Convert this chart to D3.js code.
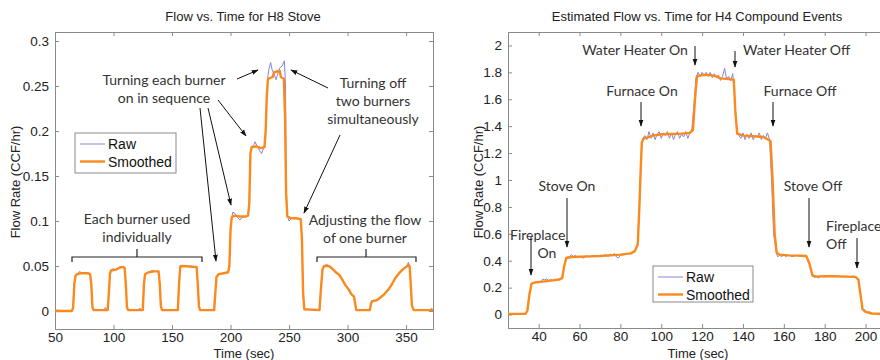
<!DOCTYPE html>
<html><head><meta charset="utf-8">
<script src="https://cdn.jsdelivr.net/npm/d3@7"></script>
<style>
body{margin:0;background:#fff;}
svg{display:block;}
.tick text{font-family:"Liberation Sans",Arial,sans-serif;font-size:13.5px;fill:#222;}
</style></head>
<body>
<svg id="c" width="880" height="360"></svg>
<script>
// ---------- DATA ----------
const h8Title = "Flow vs. Time for H8 Stove";
const h4Title = "Estimated Flow vs. Time for H4 Compound Events";
const xLabel = "Time (sec)";
const yLabel = "Flow Rate (CCF/hr)";
const seriesNames = ["Raw", "Smoothed"];

const h8XTicks = [50,100,150,200,250,300,350];
const h8YTicks = [0,0.05,0.1,0.15,0.2,0.25,0.3];
const h8YTickLabels = ["0","0.05","0.1","0.15","0.2","0.25","0.3"];
const h4XTicks = [40,60,80,100,120,140,160,180,200];
const h4YTicks = [0,0.2,0.4,0.6,0.8,1,1.2,1.4,1.6,1.8,2];
const h4YTickLabels = ["0","0.2","0.4","0.6","0.8","1","1.2","1.4","1.6","1.8","2"];

// H8 stove: [time, flow]
const h8Smooth = [[50,0],[64.5,0],[65.5,0.004],[66.5,0.03],[67.5,0.039],[69,0.041],[72,0.042],[78,0.042],[80,0.041],[81,0.03],[82,0.004],[83,0.001],
[95,0.001],[96,0.02],[97,0.042],[98,0.045],[102,0.046],[105,0.048],[108,0.049],[109.5,0.048],[110.5,0.03],[111.5,0.004],[112.5,0.001],
[125,0.001],[126,0.03],[127,0.041],[130,0.043],[135,0.044],[138.5,0.044],[139.5,0.03],[140.5,0.005],[141.5,0.001],
[155,0.001],[156,0.03],[157,0.049],[160,0.05],[167,0.049],[171,0.049],[172,0.03],[173,0.005],[174,0.001],
[186,0.001],[187,0.02],[188,0.038],[190,0.041],[194,0.042],[198,0.043],[199,0.05],[200,0.09],[201,0.104],[203,0.106],[208,0.105],[213,0.105],[215,0.106],
[216,0.12],[217,0.175],[218,0.182],[222,0.183],[226,0.181],[229,0.182],[230,0.2],[231,0.24],[232,0.258],[236,0.26],[237,0.265],[242,0.267],[243,0.26],[245.5,0.258],
[246.5,0.22],[247.5,0.13],[248.5,0.105],[252,0.103],[256,0.103],[260,0.102],[261,0.08],[262,0.02],[263,0.002],
[276,0.001],[277,0.02],[278.5,0.046],[280,0.05],[284,0.05],[287,0.047],[290,0.043],[293,0.04],[295,0.036],[298,0.029],[301,0.024],[303,0.019],[305.5,0.016],[306.5,0.008],[307.5,0.001],
[319,0.001],[320,0.008],[321,0.011],[325,0.012],[328,0.015],[331,0.018],[335,0.024],[338,0.03],[341,0.037],[344,0.042],[347,0.046],[350,0.049],[352,0.051],[353,0.05],[354,0.03],[355,0.006],[356.5,0.001],[373,0.001]];

const h8Raw = [[50,0.001],[64.5,0],[65.5,0.004],[66.5,0.03],[67.5,0.039],[69,0.041],[71,0.044],[73,0.042],[78,0.042],[80,0.041],[81,0.03],[82,0.004],[83,0.001],
[92,0.001],[93,0.004],[95,0.001],[96,0.02],[97,0.042],[98,0.046],[100,0.047],[102,0.045],[105,0.049],[108,0.049],[109.5,0.048],[110.5,0.03],[111.5,0.004],[112.5,0.001],
[121,0.001],[122,0.003],[125,0.001],[126,0.03],[127,0.041],[130,0.043],[133,0.045],[135,0.044],[138.5,0.044],[139.5,0.03],[140.5,0.005],[141.5,0.001],
[155,0.001],[156,0.03],[157,0.051],[160,0.05],[167,0.05],[171,0.049],[172,0.03],[173,0.005],[174,0.001],
[186,0.001],[187,0.02],[188,0.038],[190,0.042],[192,0.041],[195,0.042],[198,0.043],[199,0.05],[200,0.09],[201,0.104],[202,0.11],[204,0.108],[206,0.104],[208,0.101],[210,0.104],[213,0.105],[215,0.106],
[216,0.12],[217,0.175],[218,0.182],[220,0.185],[221,0.188],[223,0.182],[225,0.178],[226.5,0.175],[228,0.18],[229,0.182],[230,0.2],[231,0.24],[232,0.262],[233,0.27],[234.3,0.276],[235.5,0.268],[237,0.264],[238.9,0.257],[240,0.262],[242,0.27],[244,0.272],[246,0.278],[247,0.25],
[247.5,0.14],[248.5,0.106],[250,0.1],[252,0.103],[255,0.104],[258,0.102],[260,0.103],[261,0.08],[262,0.02],[263,0.002],
[276,0.001],[277,0.02],[278.5,0.046],[280,0.05],[282,0.052],[284,0.05],[287,0.047],[290,0.043],[293,0.04],[295,0.036],[298,0.029],[301,0.024],[303,0.019],[305.5,0.016],[306.5,0.008],[307.5,0.001],
[319,0.001],[320,0.008],[321,0.011],[325,0.012],[328,0.015],[331,0.018],[335,0.024],[338,0.03],[341,0.037],[344,0.042],[347,0.046],[350,0.049],[352,0.054],[353,0.05],[354,0.03],[355,0.006],[356.5,0.001],[370,0.001],[372,0.003],[373,0.001]];

// H4 compound events: [time, flow]
const h4Smooth = [[25,0.005],[33.5,0.005],[34.5,0.03],[35.5,0.15],[36.5,0.23],[38,0.238],[42,0.245],[46,0.252],[50,0.26],[51.5,0.27],[52.5,0.36],[53.5,0.42],
[56,0.428],[60,0.43],[65,0.432],[70,0.435],[75,0.44],[80,0.445],[85,0.455],[87,0.47],[88.5,0.52],[89.3,0.8],[90,1.1],[90.5,1.28],[91.5,1.31],
[93,1.315],[96,1.33],[100,1.34],[105,1.342],[110,1.345],[114,1.35],[115.5,1.37],[116.5,1.6],[117.5,1.77],[120,1.78],[124,1.78],[127,1.77],[129,1.755],[133,1.75],[135.5,1.745],
[136.3,1.5],[137.2,1.345],[140,1.33],[145,1.325],[150,1.32],[153.5,1.29],[154.5,1.0],[155.5,0.6],[156.5,0.46],[158,0.445],[162,0.44],[167,0.438],[171,0.435],
[172.5,0.38],[174,0.29],[176,0.282],[180,0.285],[185,0.285],[190,0.282],[195,0.28],[196.5,0.26],[197.5,0.15],[198.5,0.04],[200,0.02],[203,0.008],[210,0.005]];

const h4Raw = [[25,0.005],[33.5,0.005],[34.5,0.03],[35.5,0.15],[36.5,0.23],[38,0.238],[41,0.245],[42,0.262],[43,0.258],[44,0.265],[45,0.252],[46,0.262],[47,0.25],[48,0.258],[50,0.26],[51.5,0.27],[52.5,0.36],[53.5,0.42],
[55,0.43],[56,0.445],[57,0.43],[58,0.44],[59,0.425],[60,0.43],[62,0.42],[63,0.435],[65,0.43],[67,0.44],[69,0.43],[71,0.435],[73,0.445],[74,0.43],[75,0.45],[76,0.44],[77,0.455],[78,0.43],[79,0.42],[80,0.44],[82,0.445],[84,0.455],[85,0.45],[87,0.47],[88.5,0.52],[89.3,0.8],[90,1.1],
[90.5,1.27],[91,1.31],[92,1.33],[93,1.3],[94,1.36],[95,1.31],[96,1.35],[97,1.3],[98,1.34],[99,1.36],[100,1.31],[101,1.35],[102,1.33],[103,1.36],[104,1.31],[105,1.35],[106,1.3],[107,1.34],[108,1.36],[109,1.31],[110,1.34],[111,1.32],[112,1.36],[113,1.31],[114,1.35],[115,1.38],
[116,1.55],[117,1.76],[118,1.8],[119,1.77],[120,1.8],[121,1.78],[122,1.8],[123,1.77],[124,1.8],[125,1.76],[126,1.79],[127,1.76],[128,1.78],[129,1.74],[130,1.77],[131,1.83],[132,1.75],[133,1.77],[134,1.74],[135,1.79],[136,1.6],
[137,1.35],[138,1.33],[139,1.31],[140,1.35],[141,1.3],[142,1.34],[143,1.31],[144,1.35],[145,1.3],[146,1.33],[147,1.32],[148,1.35],[149,1.3],[150,1.33],[151,1.31],[152,1.35],[153,1.3],[154,1.0],[155,0.6],
[156.5,0.45],[157,0.43],[158,0.44],[159,0.43],[160,0.445],[161,0.43],[162,0.445],[164,0.43],[166,0.44],[168,0.435],[170,0.44],[171,0.435],[172.5,0.38],[174,0.29],[175,0.275],[176,0.283],[177,0.272],[178,0.285],[180,0.28],[182,0.29],[184,0.282],[186,0.288],[188,0.28],[190,0.285],[192,0.28],[194,0.285],[195,0.282],
[196.5,0.26],[197.5,0.15],[198.5,0.04],[200,0.03],[201,0.015],[202,0.02],[203,0.008],[210,0.005]];

// ---------- DRAW ----------
const svg = d3.select("#c");
const ORANGE = "#fa8a1e", BLUE = "#8585da", FRAME = "#8a8a8a";
const annFont = "Lato, 'Open Sans', sans-serif";
const baseFont = "'Liberation Sans',Arial,sans-serif";

svg.append("defs").append("marker").attr("id","ah").attr("viewBox","0 0 10 10")
  .attr("refX",9).attr("refY",5).attr("markerWidth",7).attr("markerHeight",7)
  .attr("orient","auto").append("path").attr("d","M0,1.5 L10,5 L0,8.5 Z").attr("fill","#111");

function panel(cfg){
  const g = svg.append("g");
  const x = d3.scaleLinear().domain(cfg.xd).range([cfg.l, cfg.r]);
  const y = d3.scaleLinear().domain(cfg.yd).range([cfg.b, cfg.t]);
  const clipId = "clip"+cfg.id;
  g.append("clipPath").attr("id",clipId).append("rect")
    .attr("x",cfg.l).attr("y",cfg.t).attr("width",cfg.r-cfg.l).attr("height",cfg.b-cfg.t);
  const ax = (gen,tr)=>{ const a = g.append("g").attr("transform",tr).call(gen);
    a.select(".domain").attr("stroke",FRAME); a.selectAll(".tick line").attr("stroke",FRAME); return a; };
  ax(d3.axisBottom(x).tickValues(cfg.xt).tickSize(-4).tickPadding(3).tickFormat(d3.format("d")), `translate(0,${cfg.b})`);
  ax(d3.axisTop(x).tickValues(cfg.xt).tickSize(-4).tickFormat(""), `translate(0,${cfg.t})`);
  ax(d3.axisLeft(y).tickValues(cfg.yt).tickSize(-4).tickPadding(6).tickFormat((d,i)=>cfg.ytl[i]), `translate(${cfg.l},0)`);
  ax(d3.axisRight(y).tickValues(cfg.yt).tickSize(-4).tickFormat(""), `translate(${cfg.r},0)`);
  const line = d3.line().x(d=>x(d[0])).y(d=>y(d[1]));
  const lg = g.append("g").attr("clip-path",`url(#${clipId})`);
  lg.append("path").datum(cfg.raw).attr("d",line).attr("fill","none").attr("stroke",BLUE).attr("stroke-width",1);
  lg.append("path").datum(cfg.smooth).attr("d",line).attr("fill","none").attr("stroke",ORANGE).attr("stroke-width",2.4).attr("stroke-linejoin","round");
  g.append("text").attr("x",cfg.titleX).attr("y",21).attr("text-anchor","middle")
    .attr("font-family",baseFont).attr("font-size",cfg.titleSize).attr("fill","#222").text(cfg.title);
  g.append("text").attr("x",cfg.xlabX).attr("y",358).attr("text-anchor","middle")
    .attr("font-family",baseFont).attr("font-size",13).attr("fill","#222").text(xLabel);
  g.append("text").attr("transform",`translate(${cfg.ylabX},182) rotate(-90)`).attr("text-anchor","middle")
    .attr("font-family",baseFont).attr("font-size",13).attr("fill","#222").text(yLabel);
  const L = cfg.leg;
  g.append("rect").attr("x",L.x).attr("y",L.y).attr("width",L.w).attr("height",L.h)
    .attr("fill","#fff").attr("stroke",FRAME).attr("stroke-width",1);
  [[BLUE,1],[ORANGE,2.4]].forEach((s,i)=>{
    const yy = L.y + 11 + i*17.5;
    g.append("line").attr("x1",L.x+5).attr("x2",L.x+30).attr("y1",yy).attr("y2",yy).attr("stroke",s[0]).attr("stroke-width",s[1]);
    g.append("text").attr("x",L.x+33).attr("y",yy+5).attr("font-family",baseFont)
      .attr("font-size",14).attr("fill","#111").text(seriesNames[i]);
  });
  return {g,x,y};
}

panel({id:1,l:55,r:433,t:32,b:329,xd:[50,373],yd:[-0.02,0.31],xt:h8XTicks,yt:h8YTicks,ytl:h8YTickLabels,
  raw:h8Raw,smooth:h8Smooth,title:h8Title,titleSize:13,titleX:243,xlabX:244,ylabX:20,leg:{x:75,y:133,w:101,h:40}});
panel({id:2,l:508,r:886,t:32,b:328,xd:[25,210],yd:[-0.1,2.1],xt:h4XTicks,yt:h4YTicks,ytl:h4YTickLabels,
  raw:h4Raw,smooth:h4Smooth,title:h4Title,titleSize:13,titleX:697,xlabX:698,ylabX:483,leg:{x:653,y:266,w:100,h:36}});

// ---------- ANNOTATIONS ----------
function txt(lines, x, y, anchor="middle", lh=18){
  lines.forEach((s,i)=> svg.append("text").attr("x",x).attr("y",y+i*lh).attr("text-anchor",anchor)
    .attr("font-family",annFont).attr("font-size",14).attr("fill","#333").text(s));
}
function arrow(x1,y1,x2,y2){
  svg.append("line").attr("x1",x1).attr("y1",y1).attr("x2",x2).attr("y2",y2)
    .attr("stroke","#111").attr("stroke-width",1).attr("marker-end","url(#ah)");
}
function bracket(x1,x2,y,xm){
  svg.append("path").attr("d",`M${x1},${y+5} V${y} H${x2} V${y+5} M${xm},${y} V${y-8}`)
    .attr("fill","none").attr("stroke","#222").attr("stroke-width",1.2);
}
txt(["Turning each burner","on in sequence"],164,85);
txt(["Turning off","two burners","simultaneously"],373,88);
txt(["Each burner used","individually"],137,224);
txt(["Adjusting the flow","of one burner"],365,225);
bracket(72,202,257,137);
bracket(317,416,257,366);
arrow(237,79,258,70);
arrow(328,88,291,70);
arrow(218,100,246,136);
arrow(200,108,216,261);
arrow(208,108,231,205);
arrow(340,135,304,213);
txt(["Water Heater On"],635,55);
txt(["Water Heater Off"],743,55,"start");
txt(["Furnace On"],642,96);
txt(["Furnace Off"],800,96);
txt(["Stove On"],567,191);
txt(["Fireplace"],510,240,"start");
txt(["On"],547,258);
txt(["Stove Off"],813,191);
txt(["Fireplace","Off"],826,231,"start");
arrow(695,46,695,65);
arrow(735,51,735,67);
arrow(641,102,641,126);
arrow(773,102,773,126);
arrow(567,198,567,247);
arrow(531,237,531,275);
arrow(809,198,809,247);
arrow(857,238,857,268);
</script>
</body></html>
